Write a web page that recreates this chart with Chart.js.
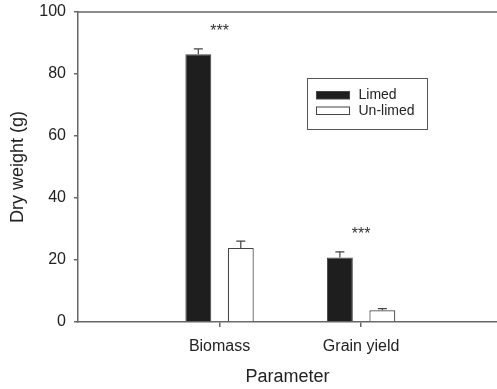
<!DOCTYPE html>
<html>
<head>
    <meta charset="utf-8">
    <title>Dry weight by parameter</title>
    <script src="https://cdn.jsdelivr.net/npm/chart.js"></script>
    <style>
        body {
            margin: 0;
            padding: 0;
            background: #fff;
        }
    </style>
</head>
<body>
    <canvas id="dryWeight" width="497" height="389"></canvas>

    <script>
        // Dry weight (g), mean and standard error per treatment
        const categories = ['Biomass', 'Grain yield'];
        const limed = [86.4, 20.8];
        const limedErr = [1.7, 1.8];
        const unlimed = [23.9, 3.8];
        const unlimedErr = [2.2, 0.5];
        const significance = ['***', '***'];
        const yTicks = [0, 20, 40, 60, 80, 100];

        const FONT = "'Liberation Sans', Arial, sans-serif";
        const AXIS = '#666';
        const TEXT = '#222';

        // error bars (upper half only) on top of each bar
        const errorBars = {
            id: 'errorBars',
            afterDatasetsDraw(chart) {
                const ctx = chart.ctx;
                const y = chart.scales.y;
                ctx.save();
                ctx.strokeStyle = '#444';
                ctx.lineWidth = 1.2;
                chart.data.datasets.forEach((ds, i) => {
                    const meta = chart.getDatasetMeta(i);
                    meta.data.forEach((bar, j) => {
                        const top = y.getPixelForValue(ds.data[j].y + ds.errors[j]);
                        ctx.beginPath();
                        ctx.moveTo(bar.x, bar.y);
                        ctx.lineTo(bar.x, top);
                        ctx.moveTo(bar.x - 4.5, top);
                        ctx.lineTo(bar.x + 4.5, top);
                        ctx.stroke();
                    });
                });
                ctx.restore();
            }
        };

        // significance stars, top line and the boxed legend
        const decorations = {
            id: 'decorations',
            afterDraw(chart) {
                const ctx = chart.ctx;
                const area = chart.chartArea;
                const x = chart.scales.x;
                const y = chart.scales.y;
                ctx.save();

                ctx.strokeStyle = AXIS;
                ctx.lineWidth = 1.5;
                ctx.beginPath();
                ctx.moveTo(area.left, area.top);
                ctx.lineTo(area.right, area.top);
                ctx.stroke();

                ctx.fillStyle = '#333';
                ctx.font = '16px ' + FONT;
                ctx.textAlign = 'center';
                ctx.textBaseline = 'middle';
                categories.forEach((c, i) => {
                    const top = y.getPixelForValue(limed[i] + limedErr[i]);
                    ctx.fillText(significance[i], x.getPixelForValue(i + 1), top - 17);
                });

                const lx = 307.5, ly = 78.5, lw = 120, lh = 51;
                ctx.strokeStyle = '#555';
                ctx.lineWidth = 1;
                ctx.strokeRect(lx, ly, lw, lh);
                ctx.font = '14px ' + FONT;
                ctx.textAlign = 'left';
                ctx.fillStyle = TEXT;
                chart.data.datasets.forEach((ds, i) => {
                    const sy = ly + 13 + i * 15.5;
                    ctx.fillStyle = ds.backgroundColor;
                    ctx.fillRect(lx + 9, sy, 33, 7.5);
                    ctx.strokeStyle = '#444';
                    ctx.strokeRect(lx + 9, sy, 33, 7.5);
                    ctx.fillStyle = TEXT;
                    ctx.fillText(ds.label, lx + 51, sy + 4);
                });
                ctx.restore();
            }
        };

        new Chart(document.getElementById('dryWeight'), {
            type: 'bar',
            data: {
                datasets: [
                    {
                        label: 'Limed',
                        data: limed.map((v, i) => ({ x: i + 1, y: v })),
                        errors: limedErr,
                        backgroundColor: '#1e1e1e',
                        borderColor: '#444',
                        borderWidth: 1
                    },
                    {
                        label: 'Un-limed',
                        data: unlimed.map((v, i) => ({ x: i + 1, y: v })),
                        errors: unlimedErr,
                        backgroundColor: '#ffffff',
                        borderColor: '#444',
                        borderWidth: 1.2
                    }
                ]
            },
            options: {
                responsive: false,
                animation: false,
                devicePixelRatio: 1,
                categoryPercentage: 0.6,
                barPercentage: 0.61,
                layout: { padding: { top: 12, right: 0, bottom: 0, left: 0 } },
                plugins: {
                    legend: { display: false },
                    tooltip: { enabled: false }
                },
                scales: {
                    x: {
                        type: 'linear',
                        offset: false,
                        min: 0,
                        max: 2.96,
                        afterBuildTicks: (scale) => {
                            scale.ticks = categories.map((c, i) => ({ value: i + 1 }));
                        },
                        afterFit: (scale) => {
                            scale.height = 67;
                            scale.paddingLeft = 0;
                            scale.paddingRight = 0;
                        },
                        ticks: {
                            callback: (v) => categories[v - 1],
                            font: { family: FONT, size: 16 },
                            color: TEXT,
                            padding: 10,
                            maxRotation: 0
                        },
                        grid: { offset: false, drawOnChartArea: false, tickLength: 5, color: AXIS, lineWidth: 1.5 },
                        border: { color: AXIS, width: 1.5 },
                        title: {
                            display: true,
                            text: 'Parameter',
                            font: { family: FONT, size: 18 },
                            color: TEXT,
                            padding: { top: 0, bottom: 1 }
                        }
                    },
                    y: {
                        min: 0,
                        max: 100,
                        afterBuildTicks: (scale) => {
                            scale.ticks = yTicks.map(v => ({ value: v }));
                        },
                        afterFit: (scale) => {
                            scale.width = 78;
                            scale.paddingTop = 0;
                            scale.paddingBottom = 0;
                        },
                        ticks: {
                            font: { family: FONT, size: 16 },
                            color: TEXT,
                            padding: 8
                        },
                        grid: { drawOnChartArea: false, tickLength: 4, color: AXIS, lineWidth: 1.5 },
                        border: { color: AXIS, width: 1.5 },
                        title: {
                            display: true,
                            text: 'Dry weight (g)',
                            font: { family: FONT, size: 18 },
                            color: TEXT,
                            padding: { top: 7, bottom: 0 }
                        }
                    }
                }
            },
            plugins: [errorBars, decorations]
        });
    </script>
</body>
</html>
